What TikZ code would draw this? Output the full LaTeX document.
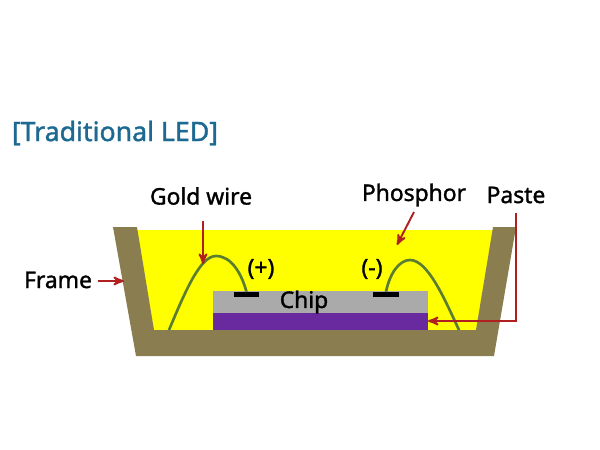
\documentclass[tikz,border=0pt]{standalone}
\usepackage{fontspec}
\setmainfont{Noto Sans}
\newfontfamily\heavyfont[FakeBold=1.4]{Noto Sans}
\usetikzlibrary{positioning,arrows}
\definecolor{framecol}{RGB}{138,125,80}
\definecolor{phoscol}{RGB}{255,255,0}
\definecolor{chipcol}{RGB}{170,170,170}
\definecolor{pastecol}{RGB}{104,42,158}
\definecolor{wirecol}{RGB}{90,125,50}
\definecolor{arrowcol}{RGB}{176,32,32}
\definecolor{titlecol}{RGB}{28,105,145}
\tikzstyle{label} = [inner sep=0pt, font=\heavyfont\fontsize{13pt}{15pt}\selectfont, text=black]
\tikzstyle{layer} = [rectangle, minimum width=4.3cm, inner sep=0pt, outer sep=0pt]
\tikzstyle{pad} = [rectangle, fill=black, minimum width=0.52cm, minimum height=0.09cm, inner sep=0pt]
\tikzstyle{connect} = [line width=1.1pt,->,>=stealth',draw=arrowcol]
\tikzstyle{wire} = [line width=1.5pt,draw=wirecol]

\begin{document}
\begin{tikzpicture}[x=0.02cm,y=-0.02cm]
			\useasboundingbox (0,0) rectangle (600,450);
			% cup
			\fill [phoscol] (137,230) -- (493,230) -- (476,331) -- (154,331) -- cycle;
			\fill [framecol] (113,227) -- (137,227) -- (154,330) -- (476,330) -- (493,227) -- (516,227) -- (494,356) -- (136,356) -- cycle;

			\node (chip) [layer,fill=chipcol,minimum height=0.44cm] at (320.5,302) {};
			\node (paste) [layer,fill=pastecol,minimum height=0.34cm,below=0pt of chip] {};
			\node (padplus) [pad] at (246.5,294.5) {};
			\node (padminus) [pad] at (386,294.5) {};

			% text
			\node (title) [inner sep=0pt,text=titlecol,font=\heavyfont\fontsize{15.2pt}{18pt}\selectfont] at (115,133) {[Traditional LED]};
			\node (gold) [label] at (201,196) {Gold wire};
			\node (phos) [label] at (414,195) {Phosphor};
			\node (pastelbl) [label] at (516,195) {Paste};
			\node (frame) [label] at (58,280) {Frame};
			\node (chiplbl) [label] at (304,302) {Chip};
			\node (plus) [label] at (261,269) {(+)};
			\node (minus) [label] at (372,269) {(-)};

			% bond wires
			\coordinate (wirea) at (169,330);
			\coordinate (wireb) at (459,330);
			\draw [wire] (wirea) .. controls (185,292) and (200,256) .. (216,256) .. controls (232,256) and (242,275) .. (padplus.north);
			\draw [wire] (padminus.north) .. controls (390,272) and (400,260) .. (410,260) .. controls (428,260) and (445,300) .. (wireb);

			% arrows
			\coordinate (goldstart) at (203,221);
			\coordinate (goldend) at (203,264);
			\coordinate (phosstart) at (414,212);
			\coordinate (phosend) at (397,245);
			\coordinate (framestart) at (98,281);
			\coordinate (frameend) at (124,281);
			\coordinate (pastestart) at (516,213);
			\coordinate (corner) at (516,321);
			\draw [connect] (goldstart) -- (goldend);
			\draw [connect] (phosstart) -- (phosend);
			\draw [connect] (framestart) -- (frameend);
			\draw [connect] (pastestart) -- (corner) -- (paste.east |- corner);
			\end{tikzpicture}
\end{document}
